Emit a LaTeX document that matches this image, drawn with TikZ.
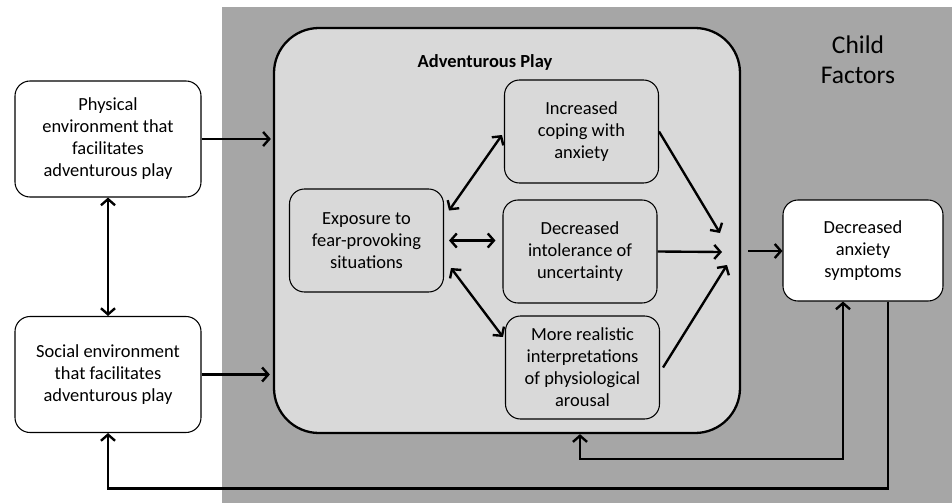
\documentclass[tikz,border=0pt]{standalone}
\usepackage{fontspec}
\setmainfont{Carlito}
\usetikzlibrary{arrows.meta, positioning, calc}
\definecolor{outergray}{HTML}{A6A6A6}
\definecolor{innergray}{HTML}{D9D9D9}

\begin{document}
\begin{tikzpicture}[
    envbox/.style={rectangle, rounded corners=0.3cm, draw=black, line width=0.6pt, fill=white, minimum width=3.72cm, minimum height=2.32cm, align=center, font=\fontsize{10.5}{12.5}\selectfont},
    mechbox/.style={rectangle, rounded corners=0.3cm, draw=black, line width=0.6pt, fill=innergray, minimum width=3.08cm, minimum height=2.06cm, align=center, font=\fontsize{10.5}{12.5}\selectfont},
    arrow/.style={-{Straight Barb[length=3.5pt,width=8pt]}, line width=1.35pt},
    twoway/.style={{Straight Barb[length=3.5pt,width=8pt]}-{Straight Barb[length=3.5pt,width=8pt]}, line width=1.35pt}
]
    \useasboundingbox (0,0) rectangle (19.04,10.06);

    % Child factors background
    \fill[outergray] (4.44,0) rectangle (19.04,9.92);
    \node[align=center, font=\fontsize{14.5}{17}\selectfont] (child) at (17.16,8.86) {Child\\Factors};

    % Adventurous play
    \node[draw=black, line width=1.3pt, fill=innergray, rounded corners=0.9cm, minimum width=9.32cm, minimum height=8.1cm] (play) at (10.14,5.45) {};
    \node[font=\fontsize{10.5}{12}\selectfont\bfseries] (playtitle) at (9.7,8.82) {Adventurous Play};

    \node[mechbox] (expo) at (7.33,5.25) {Exposure to\\fear-provoking\\situations};
    \node[mechbox] (cope) at (11.63,7.43) {Increased\\coping with\\anxiety};
    \node[mechbox] (into) at (11.6,5.03) {Decreased\\intolerance of\\uncertainty};
    \node[mechbox] (real) at (11.65,2.71) {More realistic\\interpretations\\of physiological\\arousal};

    \coordinate (meetA) at (14.4,5.4);
    \coordinate (meetB) at (14.44,5.02);
    \coordinate (meetC) at (14.54,4.76);
    \coordinate (out) at (14.96,5.04);

    \draw[twoway] ([shift={(0.1,0.6)}]expo.east) -- ([shift={(-0.04,-0.07)}]cope.west);
    \draw[twoway] ([xshift=0.1cm]expo.east) -- ([xshift=-0.14cm]expo.east -| into.west);
    \draw[twoway] ([shift={(0.14,-0.55)}]expo.east) -- ([shift={(-0.04,0.61)}]real.west);

    \draw[arrow] (cope.east) -- (meetA);
    \draw[arrow] (into.east) -- (meetB);
    \draw[arrow] ([xshift=0.06cm]real.east) -- (meetC);

    % Outcome
    \node[envbox, minimum width=3.2cm, minimum height=2.02cm] (anx) at (17.26,5.05) {Decreased\\anxiety\\symptoms};
    \draw[arrow] (out) -- (out -| anx.west);

    % Environment
    \node[envbox] (phys) at (2.16,7.28) {Physical\\environment that\\facilitates\\adventurous play};
    \node[envbox] (soc) at (2.16,2.57) {Social environment\\that facilitates\\adventurous play};

    \draw[twoway] (phys.south) -- (soc.north);
    \draw[arrow] (phys.east) -- ([xshift=-0.04cm]phys.east -| play.west);
    \draw[arrow] (soc.east) -- ([xshift=-0.06cm]soc.east -| play.west);

    % Feedback loops
    \draw[twoway] ([xshift=1.46cm]play.south) -- ++(0,-0.5) -| ([xshift=-0.4cm]anx.south);
    \draw[arrow] ([xshift=0.5cm]anx.south) -- ++(0,-3.74) -| (soc.south);
\end{tikzpicture}
\end{document}
